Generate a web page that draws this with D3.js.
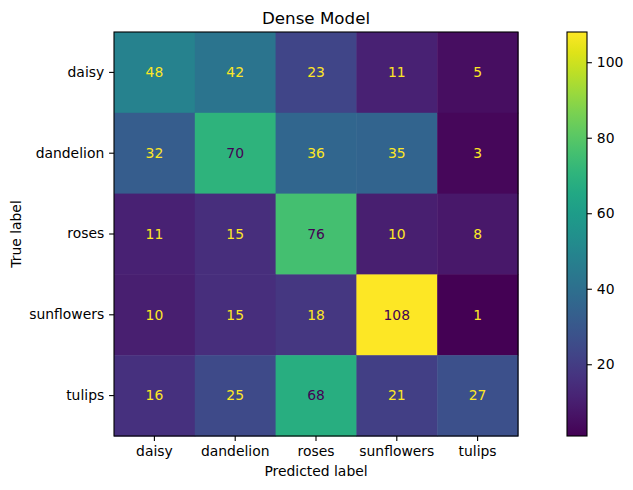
<!DOCTYPE html>
<html>
<head>
<meta charset="utf-8">
<script src="https://cdn.jsdelivr.net/npm/d3@7"></script>
<style>
  body { margin: 0; background: #fff; }
  text { font-family: "DejaVu Sans", sans-serif; }
</style>
</head>
<body>
<svg id="chart" width="633" height="490"></svg>
<script>
// confusion matrix values, rows = true label, cols = predicted label
const labels = ["daisy", "dandelion", "roses", "sunflowers", "tulips"];
const matrix = [
  [48, 42, 23, 11, 5],
  [32, 70, 36, 35, 3],
  [11, 15, 76, 10, 8],
  [10, 15, 18, 108, 1],
  [16, 25, 68, 21, 27]
];
const colorTicks = [20, 40, 60, 80, 100];

const svg = d3.select("#chart");
const plot = { left: 114, top: 32, size: 404 };
const fs = "13.9px";

const vmin = d3.min(matrix.flat());
const vmax = d3.max(matrix.flat());
const color = d3.scaleSequential(d3.interpolateViridis).domain([vmin, vmax]);

const x = d3.scaleBand().domain(labels).range([plot.left, plot.left + plot.size]);
const y = d3.scaleBand().domain(labels).range([plot.top, plot.top + plot.size]);

const cells = matrix.flatMap((row, i) => row.map((v, j) => ({ t: labels[i], p: labels[j], v })));

svg.append("g").selectAll("rect")
  .data(cells)
  .enter().append("rect")
  .attr("x", d => x(d.p))
  .attr("y", d => y(d.t))
  .attr("width", x.bandwidth() + 0.5)
  .attr("height", y.bandwidth() + 0.5)
  .attr("fill", d => color(d.v));

// text colour flips at the middle of the colour range, like matplotlib
const thresh = (vmin + vmax) / 2;
svg.append("g").selectAll("text")
  .data(cells)
  .enter().append("text")
  .attr("x", d => x(d.p) + x.bandwidth() / 2)
  .attr("y", d => y(d.t) + y.bandwidth() / 2)
  .attr("dy", "0.35em")
  .attr("text-anchor", "middle")
  .style("font-size", fs)
  .attr("fill", d => d.v < thresh ? color(vmax) : color(vmin))
  .text(d => d.v);

svg.append("rect")
  .attr("x", plot.left).attr("y", plot.top)
  .attr("width", plot.size).attr("height", plot.size)
  .attr("fill", "none").attr("stroke", "#000").attr("stroke-width", 1.1);

const xAxis = svg.append("g")
  .attr("transform", `translate(0,${plot.top + plot.size})`)
  .call(d3.axisBottom(x).tickSize(4.9).tickPadding(4.9));
const yAxis = svg.append("g")
  .attr("transform", `translate(${plot.left},0)`)
  .call(d3.axisLeft(y).tickSize(4.9).tickPadding(4.9));
[xAxis, yAxis].forEach(a => {
  a.select(".domain").remove();
  a.selectAll("text").style("font-size", fs).attr("fill", "#000").style("font-family", "DejaVu Sans");
  a.selectAll("line").attr("stroke", "#000").attr("stroke-width", 1.1);
});

svg.append("text")
  .attr("x", plot.left + plot.size / 2).attr("y", 24)
  .attr("text-anchor", "middle")
  .style("font-size", "16.7px")
  .text("Dense Model");

svg.append("text")
  .attr("x", plot.left + plot.size / 2).attr("y", 476)
  .attr("text-anchor", "middle")
  .style("font-size", fs)
  .text("Predicted label");

svg.append("text")
  .attr("transform", `translate(21,${plot.top + plot.size / 2}) rotate(-90)`)
  .attr("text-anchor", "middle")
  .style("font-size", fs)
  .text("True label");

// colorbar
const cb = { left: 567, width: 20 };
const cy = d3.scaleLinear().domain([vmin, vmax]).range([plot.top + plot.size, plot.top]);

const defs = svg.append("defs");
const grad = defs.append("linearGradient")
  .attr("id", "cbar").attr("x1", 0).attr("y1", 1).attr("x2", 0).attr("y2", 0);
d3.range(0, 1.0001, 0.05).forEach(t => {
  grad.append("stop").attr("offset", t).attr("stop-color", d3.interpolateViridis(t));
});

svg.append("rect")
  .attr("x", cb.left).attr("y", plot.top)
  .attr("width", cb.width).attr("height", plot.size)
  .attr("fill", "url(#cbar)")
  .attr("stroke", "#000").attr("stroke-width", 1.1);

const cAxis = svg.append("g")
  .attr("transform", `translate(${cb.left + cb.width},0)`)
  .call(d3.axisRight(cy).tickValues(colorTicks).tickSize(4.9).tickPadding(4.9));
cAxis.select(".domain").remove();
cAxis.selectAll("text").style("font-size", fs).attr("fill", "#000").style("font-family", "DejaVu Sans");
cAxis.selectAll("line").attr("stroke", "#000").attr("stroke-width", 1.1);
</script>
</body>
</html>
